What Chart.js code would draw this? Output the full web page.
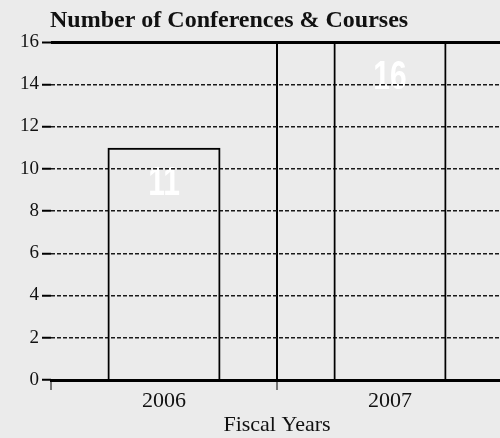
<!DOCTYPE html>
<html>
<head>
<meta charset="utf-8">
<script src="https://cdn.jsdelivr.net/npm/chart.js@4/dist/chart.umd.min.js"></script>
<style>
  html, body { margin: 0; padding: 0; background: #ebebeb; }
  #wrap { width: 500px; height: 438px; overflow: hidden; position: relative; }
</style>
</head>
<body>
<div id="wrap"><canvas id="confChart" width="510" height="438"></canvas></div>
<script>
var chartTitle = 'Number of Conferences & Courses';
var years = ['2006', '2007'];
var counts = [11, 16];
var yMax = 16;
var yStep = 2;
var xAxisTitle = 'Fiscal Years';

var serif = '"Liberation Serif", "Times New Roman", serif';

// white numbers inside the bars (under the grid) + the title in the top left
var barLabels = {
    id: 'barLabels',
    beforeDraw: function(chart) {
        var ctx = chart.ctx;
        var meta = chart.getDatasetMeta(0);
        ctx.save();
        ctx.fillStyle = '#ffffff';
        ctx.font = 'bold 40px "Liberation Sans", Arial, sans-serif';
        ctx.textAlign = 'center';
        ctx.textBaseline = 'alphabetic';
        meta.data.forEach(function(bar, i) {
            ctx.save();
            ctx.translate(bar.x, bar.y + 47);
            ctx.scale(0.75, 1);
            ctx.fillText(String(counts[i]), 0, 0);
            ctx.restore();
        });
        ctx.fillStyle = '#111';
        ctx.font = 'bold 24px ' + serif;
        ctx.textAlign = 'left';
        ctx.fillText(chartTitle, chart.chartArea.left - 1, 27);
        ctx.restore();
    }
};

var el = document.getElementById('confChart').getContext('2d');

var confChart = new Chart(el, {
    type: 'bar',
    data: {
        labels: years,
        datasets: [{
            label: chartTitle,
            data: counts,
            backgroundColor: 'rgba(0,0,0,0)',
            borderColor: '#000',
            borderWidth: 2,
            barPercentage: 0.5,
            categoryPercentage: 1
        }]
    },
    options: {
        responsive: false,
        animation: false,
        layout: { padding: { top: 42, right: 7, left: 0, bottom: 0 } },
        plugins: {
            legend: { display: false },
            tooltip: { enabled: false },
            title: { display: false }
        },
        scales: {
            x: {
                offset: true,
                grid: {
                    offset: true,
                    color: function(c) { return c.index === 0 ? 'rgba(0,0,0,0)' : '#000'; },
                    lineWidth: 2,
                    tickColor: '#000',
                    tickWidth: 1,
                    tickLength: 10
                },
                border: { display: true, color: '#000', width: 3 },
                ticks: {
                    color: '#111',
                    font: { family: serif, size: 22, lineHeight: 1 },
                    padding: 0
                },
                title: {
                    display: true,
                    text: xAxisTitle,
                    color: '#111',
                    font: { family: serif, size: 22, lineHeight: 1 },
                    padding: { top: 2, bottom: 2 }
                }
            },
            y: {
                min: 0,
                max: yMax,
                afterFit: function(scale) { scale.width = 51; },
                grid: {
                    color: function(c) { return c.tick && c.tick.value === yMax ? '#000' : '#1a1a1a'; },
                    lineWidth: function(c) { return c.tick && c.tick.value === yMax ? 3 : 1.5; },
                    tickColor: '#000',
                    tickWidth: 2,
                    tickLength: 9
                },
                border: {
                    display: false,
                    dash: function(c) { return c.tick && c.tick.value === yMax ? [] : [4, 2]; }
                },
                ticks: {
                    stepSize: yStep,
                    color: '#111',
                    padding: 3,
                    font: { family: serif, size: 19 }
                }
            }
        }
    },
    plugins: [barLabels]
});
</script>
</body>
</html>
